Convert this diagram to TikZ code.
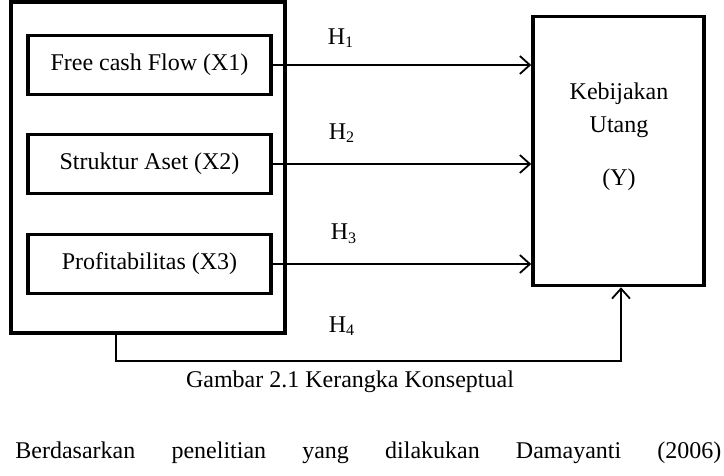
\documentclass[tikz,border=0pt]{standalone}
\usepackage{fontspec}
\setmainfont{Liberation Serif}
\usetikzlibrary{arrows.meta}

\begin{document}
\begin{tikzpicture}[x=0.5pt, y=-0.5pt,
        every node/.style={font=\fontsize{12}{16.5}\selectfont},
        varbox/.style={draw, line width=1.6pt, minimum width=121.5pt, minimum height=29.5pt, inner sep=0pt},
        link/.style={line width=0.9pt, -{Straight Barb[length=5pt, width=9pt, line width=0.9pt]}}]

        \useasboundingbox (0, 0) rectangle (724, 476);

        % left group of independent variables
        \node[draw, line width=1.8pt, minimum width=137pt, minimum height=165.5pt, inner sep=0pt] (outer) at (148, 167.5) {};
        \node[varbox] (x1) at (149.5, 65) {Free cash Flow (X1)};
        \node[varbox] (x2) at (149.5, 164) {Struktur Aset (X2)};
        \node[varbox] (x3) at (149.5, 264) {Profitabilitas (X3)};

        % dependent variable
        \node[draw, line width=1.8pt, minimum width=85.5pt, minimum height=134.5pt, inner sep=0pt] (y) at (618.5, 151) {};
        \node[align=center] (ylabel) at (619, 137) {Kebijakan\\Utang\\[10pt](Y)};

        \foreach \n in {1, 2, 3} {
            \draw[link] (x\n.east) -- (x\n.east -| y.west);
        }

        \coordinate (h4left) at (116, 361);
        \coordinate (h4right) at (621, 361);
        \draw[link] (outer.south -| h4left) -- (h4left) -- (h4right) -- (y.south -| h4right);

        \node (h1) at (341, 38) {H\textsubscript{1}};
        \node (h2) at (342, 133) {H\textsubscript{2}};
        \node (h3) at (344, 234) {H\textsubscript{3}};
        \node (h4) at (342, 326) {H\textsubscript{4}};

        \node (caption) at (350, 382) {Gambar 2.1 Kerangka Konseptual};

        \node[anchor=base west, inner sep=0pt] (para) at (15, 458) {\makebox[353pt][s]{Berdasarkan\hfill penelitian\hfill yang\hfill dilakukan\hfill Damayanti\hfill (2006)}};

    \end{tikzpicture}
\end{document}
